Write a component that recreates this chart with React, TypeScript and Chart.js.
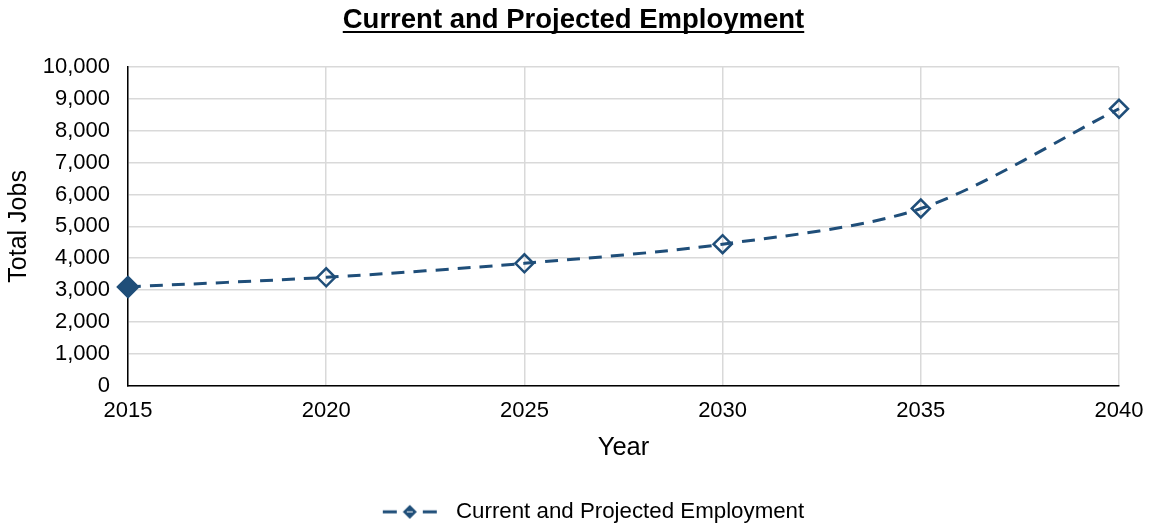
import React, { useEffect, useRef } from 'react';
import { Chart, registerables } from 'chart.js';

Chart.register(...registerables);

// ---- data ----
const years = [2015, 2020, 2025, 2030, 2035, 2040];
const jobs = [3100, 3400, 3840, 4440, 5560, 8690];
const yMin = 0;
const yMax = 10000;
const yStep = 1000;
const xMin = 2015;
const xMax = 2040;
const xStep = 5;
const chartTitle = 'Current and Projected Employment';
const seriesName = 'Current and Projected Employment';
const xTitle = 'Year';
const yTitle = 'Total Jobs';

// ---- styles ----
const BLUE = '#1F4E79';
const FONT = "'Liberation Sans', Arial, sans-serif";

function makeLegendImage(): HTMLCanvasElement {
  const c = document.createElement('canvas');
  c.width = 130;
  c.height = 20;
  const ctx = c.getContext('2d')!;
  ctx.strokeStyle = BLUE;
  ctx.lineWidth = 3;
  ctx.beginPath();
  ctx.moveTo(68, 10);
  ctx.lineTo(82, 10);
  ctx.moveTo(108, 10);
  ctx.lineTo(122, 10);
  ctx.stroke();
  ctx.fillStyle = BLUE;
  ctx.beginPath();
  ctx.moveTo(95 - 7, 10);
  ctx.lineTo(95, 3);
  ctx.lineTo(95 + 7, 10);
  ctx.lineTo(95, 17);
  ctx.closePath();
  ctx.fill();
  ctx.strokeStyle = '#ffffff';
  ctx.lineWidth = 1;
  ctx.beginPath();
  ctx.moveTo(92, 10);
  ctx.lineTo(98, 10);
  ctx.stroke();
  return c;
}

const titlePlugin = {
  id: 'underlinedTitle',
  afterDraw(chart: any) {
    const ctx = chart.ctx;
    ctx.save();
    ctx.font = `bold 27.5px ${FONT}`;
    ctx.fillStyle = '#000';
    ctx.textAlign = 'center';
    ctx.textBaseline = 'alphabetic';
    const cx = chart.width / 2 - 2;
    const base = 28;
    ctx.fillText(chartTitle, cx, base);
    const w = ctx.measureText(chartTitle).width;
    ctx.fillRect(cx - w / 2, base + 3, w, 2);
    ctx.restore();
  },
};

export default function App() {
  const ref = useRef<HTMLCanvasElement | null>(null);

  useEffect(() => {
    if (!ref.current) return;
    const legendImg = makeLegendImage();
    const points = years.map((y, i) => ({ x: y, y: jobs[i] }));
    const chart = new Chart(ref.current, {
      type: 'line',
      data: {
        datasets: [
          {
            label: seriesName,
            data: points,
            clip: false,
            borderColor: BLUE,
            borderWidth: 3,
            borderDash: [13, 9],
            tension: 0.3,
            fill: false,
            pointStyle: 'rectRot',
            pointRadius: points.map((_, i) => (i === 0 ? 10 : 9)),
            pointBorderWidth: 2.5,
            pointBorderColor: BLUE,
            pointBackgroundColor: points.map((_, i) => (i === 0 ? BLUE : 'rgba(0,0,0,0)')),
          } as any,
        ],
      },
      options: {
        animation: false,
        responsive: true,
        maintainAspectRatio: false,
        layout: { padding: { top: 67, right: 32, left: 0, bottom: -8 } },
        plugins: {
          title: { display: false },
          tooltip: { enabled: false },
          legend: {
            display: true,
            position: 'bottom',
            labels: {
              usePointStyle: true,
              pointStyleWidth: 130,
              padding: 10,
              color: '#000',
              font: { family: FONT, size: 22.3 },
              generateLabels: () => [
                {
                  text: seriesName,
                  pointStyle: legendImg as any,
                  fillStyle: BLUE,
                  strokeStyle: BLUE,
                  lineWidth: 0,
                  hidden: false,
                  datasetIndex: 0,
                  fontColor: '#000',
                } as any,
              ],
            },
          },
        },
        scales: {
          x: {
            type: 'linear',
            min: xMin,
            max: xMax,
            ticks: {
              stepSize: xStep,
              padding: 12,
              color: '#000',
              font: { family: FONT, size: 22 },
              callback: (v: any) => String(v),
            },
            grid: { color: '#d9d9d9', lineWidth: 1.5, drawTicks: false },
            border: { color: '#000', width: 1.5 },
            title: {
              display: true,
              text: xTitle,
              color: '#000',
              font: { family: FONT, size: 25.5 },
              padding: { top: -3, bottom: 27 },
            },
            afterFit: (s: any) => {
              s.paddingRight = 0;
              s.paddingLeft = 0;
            },
          },
          y: {
            min: yMin,
            max: yMax,
            ticks: {
              stepSize: yStep,
              padding: 18,
              color: '#000',
              font: { family: FONT, size: 22 },
              callback: (v: any) => Number(v).toLocaleString('en-US'),
            },
            grid: { color: '#d9d9d9', lineWidth: 1.5, drawTicks: false },
            border: { color: '#000', width: 1.5 },
            title: {
              display: true,
              text: yTitle,
              color: '#000',
              font: { family: FONT, size: 25 },
              padding: { top: 4, bottom: 4 },
            },
            afterFit: (s: any) => {
              s.width = 128;
            },
          },
        },
      },
      plugins: [titlePlugin],
    });
    return () => chart.destroy();
  }, []);

  return (
    <div style={{ position: 'absolute', left: 0, top: 0, width: 1151, height: 525, background: '#fff' }}>
      <canvas ref={ref} />
    </div>
  );
}
